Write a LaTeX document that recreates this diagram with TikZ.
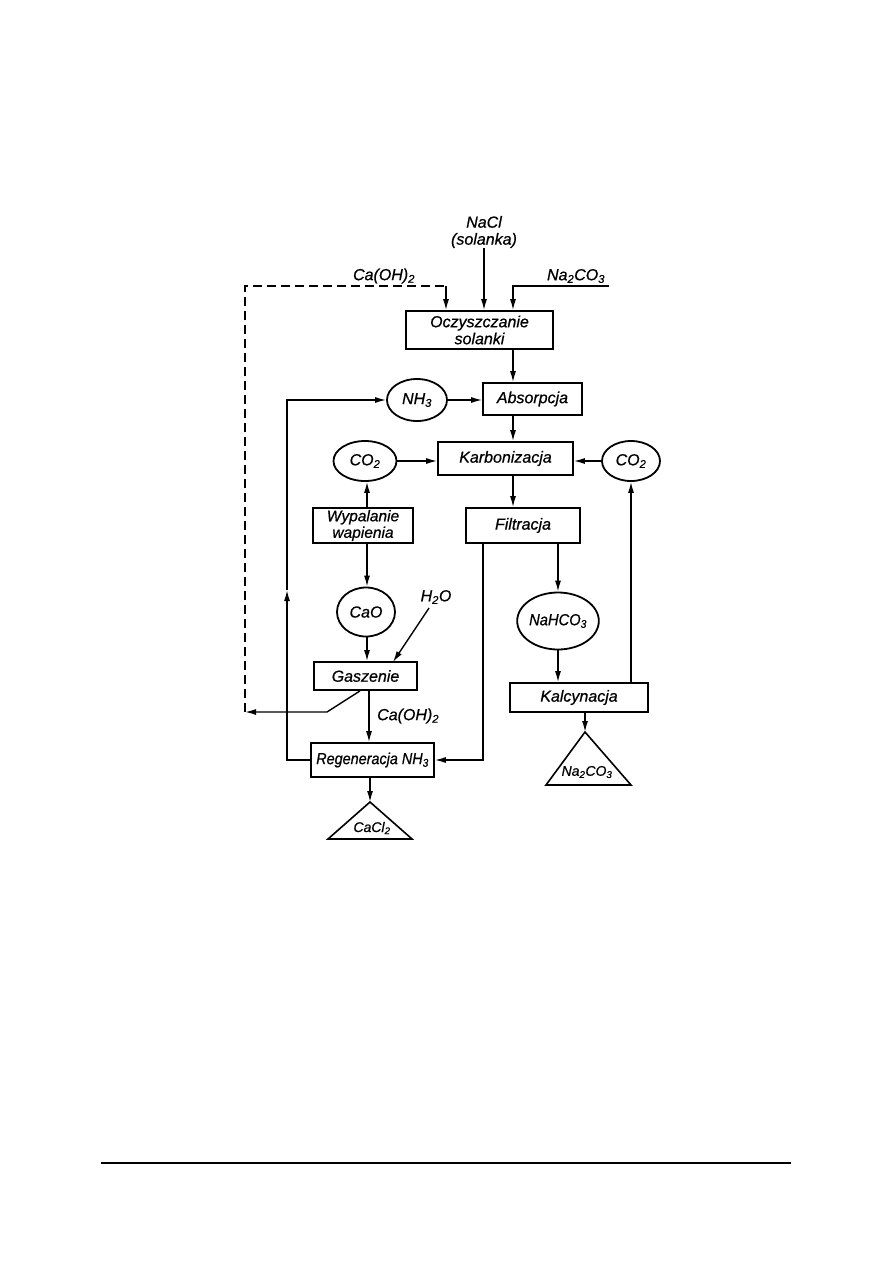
\documentclass[tikz,border=0pt]{standalone}
\usepackage{fontspec}
\setmainfont{Liberation Sans}[ItalicFeatures={FakeBold=0.7}]
\usetikzlibrary{arrows.meta,shapes.geometric}
\newcommand{\lbl}{\fontsize{16}{17}\selectfont\itshape}
\newcommand{\tlbl}{\fontsize{14}{15}\selectfont\itshape}
\begin{document}
\begin{tikzpicture}[x=1pt,y=-1pt,
  box/.style={draw,line width=1.8pt,inner sep=0pt,font=\lbl,align=center},
  oval/.style={ellipse,draw,line width=1.8pt,inner sep=0pt,font=\lbl},
  con/.style={line width=1.4pt},
  arr/.style={con,-{Latex[length=11pt,width=6pt]}},
  lab/.style={font=\lbl,inner sep=0pt,align=center}]
\useasboundingbox (0,0) rectangle (893,1263);

% boxes
\node[box,minimum width=147pt,minimum height=38pt] (oczy) at (479.5,330) {Oczyszczanie\\solanki};
\node[box,minimum width=99pt,minimum height=32pt] (abs) at (532.5,399) {Absorpcja};
\node[box,minimum width=135pt,minimum height=33pt] (karb) at (505.5,458.5) {Karbonizacja};
\node[box,minimum width=100pt,minimum height=35pt,font=\fontsize{15.5}{16.5}\selectfont\itshape] (wyp) at (363,525.5) {Wypalanie\\wapienia};
\node[box,minimum width=114pt,minimum height=35pt] (filt) at (523,525.5) {Filtracja};
\node[box,minimum width=103pt,minimum height=28pt] (gasz) at (365.5,676) {Gaszenie};
\node[box,minimum width=123pt,minimum height=34pt] (regen) at (372.5,760) {\scalebox{0.9}[1]{Regeneracja NH\textsubscript{3}}};
\node[box,minimum width=138pt,minimum height=29pt] (kalc) at (579,697.5) {Kalcynacja};

% ovals
\node[oval,minimum width=60pt,minimum height=42pt] (nh3) at (417,400) {NH\textsubscript{3}};
\node[oval,minimum width=63pt,minimum height=40pt] (co2l) at (365,461) {CO\textsubscript{2}};
\node[oval,minimum width=58pt,minimum height=40pt] (co2r) at (631,461) {CO\textsubscript{2}};
\node[oval,minimum width=58pt,minimum height=49pt] (cao) at (366,612) {CaO};
\node[oval,minimum width=70pt,minimum height=57pt] (nahco3) at (558,621) {\scalebox{0.92}[1]{NaHCO\textsubscript{3}}};

% triangles
\coordinate (caapex) at (370,802);
\draw[line width=1.6pt] (caapex) -- (412,839) -- (328,839) -- cycle;
\node[lab,font=\tlbl] (cacl2) at (372,828) {CaCl\textsubscript{2}};
\coordinate (naapex) at (585,732);
\draw[line width=1.6pt] (naapex) -- (631,785) -- (546,785) -- cycle;
\node[lab,font=\tlbl] (naprod) at (587,772) {Na\textsubscript{2}CO\textsubscript{3}};

% labels
\node[lab] (nacl) at (484,232) {NaCl\\(solanka)};
\node[lab] (caohtop) at (384,276) {Ca(OH)\textsubscript{2}};
\node[lab] (natop) at (576,276) {Na\textsubscript{2}CO\textsubscript{3}};
\node[lab] (h2o) at (436,597) {H\textsubscript{2}O};
\node[lab,anchor=west] (caohmid) at (377,716) {Ca(OH)\textsubscript{2}};

% helper coordinates
\coordinate (mainx) at (513,0);
\coordinate (lx) at (367,0);
\coordinate (fl) at (483,0);
\coordinate (rl) at (287,0);
\coordinate (naend) at (609,286);
\coordinate (nacorner) at (513,286);
\coordinate (dtop) at (446,286);
\coordinate (dleft) at (245,286);
\coordinate (dbot) at (245,712);
\coordinate (gbend) at (327,712);
\coordinate (gout) at (360,0);
\coordinate (h2ostart) at (429,608);
\coordinate (h2oin) at (393,662);
\coordinate (upmark) at (287,590);

% top feeds
\draw[arr] (nacl.south) -- (nacl.south |- oczy.north);
\draw[arr] (naend) -- (nacorner) -- (nacorner |- oczy.north);
\draw[con,dash pattern=on 9pt off 5pt] (dbot) -- (dleft) -- (dtop);
\draw[arr] (dtop) -- (dtop |- oczy.north);

% main chain
\draw[arr] (oczy.south -| mainx) -- (abs.north -| mainx);
\draw[arr] (abs.south -| mainx) -- (karb.north -| mainx);
\draw[arr] (karb.south -| mainx) -- (filt.north -| mainx);
\draw[arr] (nh3.east) -- (nh3.east -| abs.west);
\draw[arr] (co2l.east) -- (co2l.east -| karb.west);
\draw[arr] (co2r.west) -- (co2r.west -| karb.east);

% left column
\draw[arr] (wyp.north -| lx) -- (co2l.south -| lx);
\draw[arr] (wyp.south -| lx) -- (cao.north -| lx);
\draw[arr] (cao.south -| lx) -- (gasz.north -| lx);
\draw[arr] (h2ostart) -- (h2oin);
\draw[arr] (gasz.south -| caohmid.west) ++(-8,0) coordinate (gx) -- (gx |- regen.north);
\draw[arr] (gasz.south -| gout) -- (gbend) -- (dbot);
\draw[arr] (regen.south -| caapex) -- (caapex);

% recycle NH3
\draw[arr] (regen.west) -- (rl |- regen.west) -- (upmark);
\draw[arr] (upmark) -- (rl |- nh3.west) -- (nh3.west);

% filtration outputs
\draw[arr] (filt.south -| fl) -- (fl |- regen.east) -- (regen.east);
\draw[arr] (filt.south -| nahco3.north) -- (nahco3.north);
\draw[arr] (nahco3.south) -- (nahco3.south |- kalc.north);
\draw[arr] (kalc.south -| naapex) -- (naapex);
\draw[arr] (kalc.north -| co2r.south) -- (co2r.south);

% footer rule
\coordinate (fa) at (101,1163);
\coordinate (fb) at (791,1163);
\draw[line width=1.3pt] (fa) -- (fb);
\end{tikzpicture}
\end{document}
